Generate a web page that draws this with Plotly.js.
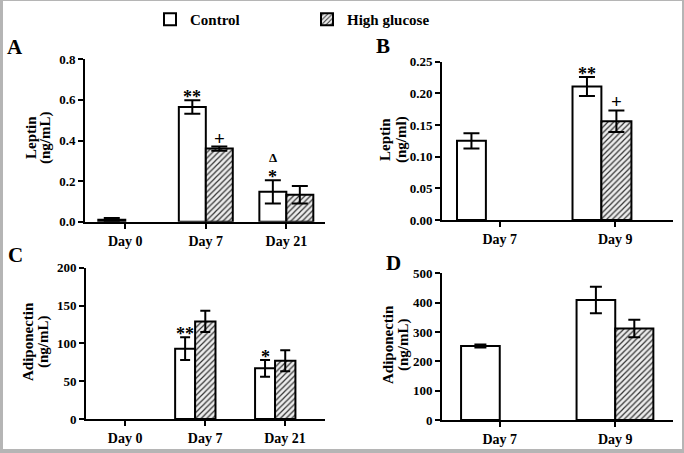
<!DOCTYPE html>
<html><head><meta charset="utf-8">
<script src="https://cdn.plot.ly/plotly-3.0.1.min.js"></script>
<style>
html,body{margin:0;padding:0;background:#fff;}
#wrap{position:relative;width:684px;height:453px;overflow:hidden;}
#frame{position:absolute;left:0;top:0;width:684px;height:453px;box-sizing:border-box;border-style:solid;border-color:#b5b5b5;border-width:1px 2px 4px 3px;pointer-events:none;}
</style>
</head><body><div id="wrap"><div id="chart"></div><div id="frame"></div></div>
<script>
// ---- data ----
const seriesNames = ['Control', 'High glucose'];

const daysAC = ['Day 0', 'Day 7', 'Day 21'];
const daysBD = ['Day 7', 'Day 9'];

const leptinA_control = [0.010, 0.565, 0.147];
const leptinA_controlErr = [0.008, 0.033, 0.057];
const leptinA_hg = [null, 0.360, 0.133];
const leptinA_hgErr = [null, 0.010, 0.043];

const leptinB_control = [0.125, 0.211];
const leptinB_controlErr = [0.012, 0.015];
const leptinB_hg = [null, 0.156];
const leptinB_hgErr = [null, 0.017];

const adipoC_control = [null, 93, 67];
const adipoC_controlErr = [null, 15, 11];
const adipoC_hg = [null, 129, 77];
const adipoC_hgErr = [null, 14, 14];

const adipoD_control = [252, 409];
const adipoD_controlErr = [5, 45];
const adipoD_hg = [null, 312];
const adipoD_hgErr = [null, 30];

const yTitles = {A: ['Leptin', '(ng/mL)'], B: ['Leptin', '(ng/ml)'], C: ['Adiponectin', '(ng/mL)'], D: ['Adiponectin', '(ng/mL)']};

// significance markers: [panel, day, series index, label]
const sigMarks = [
  ['A', 'Day 7', 0, '**'], ['A', 'Day 7', 1, '+'], ['A', 'Day 21', 0, '*'], ['A', 'Day 21', 0, 'Δ'],
  ['B', 'Day 9', 0, '**'], ['B', 'Day 9', 1, '+'],
  ['C', 'Day 7', 0, '**'], ['C', 'Day 21', 0, '*']
];

// ---- style ----
const W = 684, H = 453;
const FONT = '"Liberation Serif", "Times New Roman", Times, serif';
const px = x => x / W;
const py = y => 1 - y / H;

const panels = {
  A: {x: 'x', y: 'y', cats: daysAC, c: leptinA_control, ce: leptinA_controlErr, h: leptinA_hg, he: leptinA_hgErr,
      wC: 0.335, oC: -0.335, wH: 0.335, oH: 0, cap: 8, catPx: 80.5},
  B: {x: 'x2', y: 'y2', cats: daysBD, c: leptinB_control, ce: leptinB_controlErr, h: leptinB_hg, he: leptinB_hgErr,
      wC: 0.25, oC: -0.37, wH: 0.26, oH: -0.12, cap: 8, catPx: 115.5},
  C: {x: 'x3', y: 'y3', cats: daysAC, c: adipoC_control, ce: adipoC_controlErr, h: adipoC_hg, he: adipoC_hgErr,
      wC: 0.25, oC: -0.375, wH: 0.255, oH: -0.125, cap: 5, catPx: 80},
  D: {x: 'x4', y: 'y4', cats: daysBD, c: adipoD_control, ce: adipoD_controlErr, h: adipoD_hg, he: adipoD_hgErr,
      wC: 0.335, oC: -0.335, wH: 0.33, oH: 0, cap: 6, catPx: 115.5}
};

const traces = [];
let first = true;
for (const key of ['A', 'B', 'C', 'D']) {
  const p = panels[key];
  traces.push({
    type: 'bar', name: seriesNames[0], legendgroup: 'c', showlegend: first,
    x: p.cats, y: p.c, xaxis: p.x, yaxis: p.y, width: p.wC, offset: p.oC,
    marker: {color: 'white', line: {color: 'black', width: 2}},
    error_y: {type: 'data', array: p.ce, visible: true, thickness: 2, width: p.cap, color: 'black'},
    hoverinfo: 'skip'
  });
  traces.push({
    type: 'bar', name: seriesNames[1], legendgroup: 'h', showlegend: first,
    x: p.cats, y: p.h, xaxis: p.x, yaxis: p.y, width: p.wH, offset: p.oH,
    marker: {color: 'white', line: {color: 'black', width: 2},
             pattern: {shape: '/', fgcolor: '#333333', bgcolor: '#ececec', size: 4, solidity: 0.3}},
    error_y: {type: 'data', array: p.he, visible: true, thickness: 2, width: p.cap, color: 'black'},
    hoverinfo: 'skip'
  });
  first = false;
}

const tickFont = {family: FONT, size: 13, color: 'black', weight: 'bold'};
function xax(domain, anchor, range) {
  return {domain, anchor, range, type: 'category', showline: true, linewidth: 2, linecolor: 'black',
    ticks: 'outside', ticklen: 5, tickwidth: 2, tickcolor: 'black', showgrid: false, zeroline: false,
    tickfont: Object.assign({}, tickFont, {size: 14}), fixedrange: true};
}
function yax(domain, anchor, range, dtick, fmt) {
  return {domain, anchor, range, dtick, tick0: 0, tickformat: fmt, showline: true, linewidth: 2, linecolor: 'black',
    ticks: 'outside', ticklen: 5, tickwidth: 2, tickcolor: 'black', showgrid: false, zeroline: false,
    tickfont: tickFont, fixedrange: true};
}

const annotations = [];
// panel letters
const letters = [['A', 15, 47], ['B', 383, 46], ['C', 15, 255], ['D', 393, 263]];
for (const [t, x, y] of letters) {
  annotations.push({text: t, xref: 'paper', yref: 'paper', x: px(x), y: py(y), xanchor: 'center', yanchor: 'middle',
    showarrow: false, font: {family: FONT, size: 21, color: 'black', weight: 'bold'}});
}
// y-axis titles (two lines, rotated)
const yTitlePos = {A: [31, 45, 138], B: [385, 401, 140], C: [28, 43, 342], D: [388, 403, 345]};
for (const key of ['A', 'B', 'C', 'D']) {
  const [x1, x2, yc] = yTitlePos[key];
  yTitles[key].forEach((t, i) => {
    annotations.push({text: t, xref: 'paper', yref: 'paper', x: px(i === 0 ? x1 : x2), y: py(yc),
      xanchor: 'center', yanchor: 'middle', textangle: -90, showarrow: false,
      font: {family: FONT, size: 15, color: 'black', weight: 'bold'}});
  });
}
// significance marks above error bars
const markShift = {'**': -9, '*': -9, '+': -4, 'Δ': 13};
const markSize = {'**': 18, '*': 18, '+': 19, 'Δ': 13};
for (const [key, day, s, label] of sigMarks) {
  const p = panels[key];
  const i = p.cats.indexOf(day);
  const val = s === 0 ? p.c[i] + p.ce[i] : p.h[i] + p.he[i];
  const w = s === 0 ? p.wC : p.wH, o = s === 0 ? p.oC : p.oH;
  const shiftX = (o + w / 2) * p.catPx;
  annotations.push({text: label, xref: p.x, yref: p.y, x: day, y: val, xshift: shiftX, yshift: markShift[label],
    xanchor: 'center', yanchor: 'bottom', showarrow: false,
    font: {family: FONT, size: markSize[label], color: 'black', weight: 'bold'}});
}

const layout = {
  width: W, height: H, margin: {l: 0, r: 0, t: 0, b: 0},
  paper_bgcolor: 'white', plot_bgcolor: 'white',
  font: {family: FONT, color: 'black'},
  barmode: 'overlay',
  showlegend: true,
  legend: {orientation: 'h', x: px(150), y: py(3), xanchor: 'left', yanchor: 'top',
    entrywidth: 112, entrywidthmode: 'pixels',
    font: {family: FONT, size: 15, color: 'black', weight: 'bold'}, bgcolor: 'rgba(0,0,0,0)'},
  xaxis: xax([px(85), px(325)], 'y', [-0.5, 2.48]),
  yaxis: yax([py(221.7), py(59.3)], 'x', [0, 0.8], 0.2, '.1f'),
  xaxis2: xax([px(442), px(673)], 'y2', [-0.5, 1.5]),
  yaxis2: yax([py(220), py(61.7)], 'x2', [0, 0.25], 0.05, '.2f'),
  xaxis3: xax([px(86), px(325)], 'y3', [-0.49, 2.5]),
  yaxis3: yax([py(419), py(267.7)], 'x3', [0, 200], 50, 'd'),
  xaxis4: xax([px(442), px(673)], 'y4', [-0.5, 1.5]),
  yaxis4: yax([py(420), py(273.3)], 'x4', [0, 500], 100, 'd'),
  annotations
};

Plotly.newPlot('chart', traces, layout, {displayModeBar: false, staticPlot: true});
</script></body></html>
